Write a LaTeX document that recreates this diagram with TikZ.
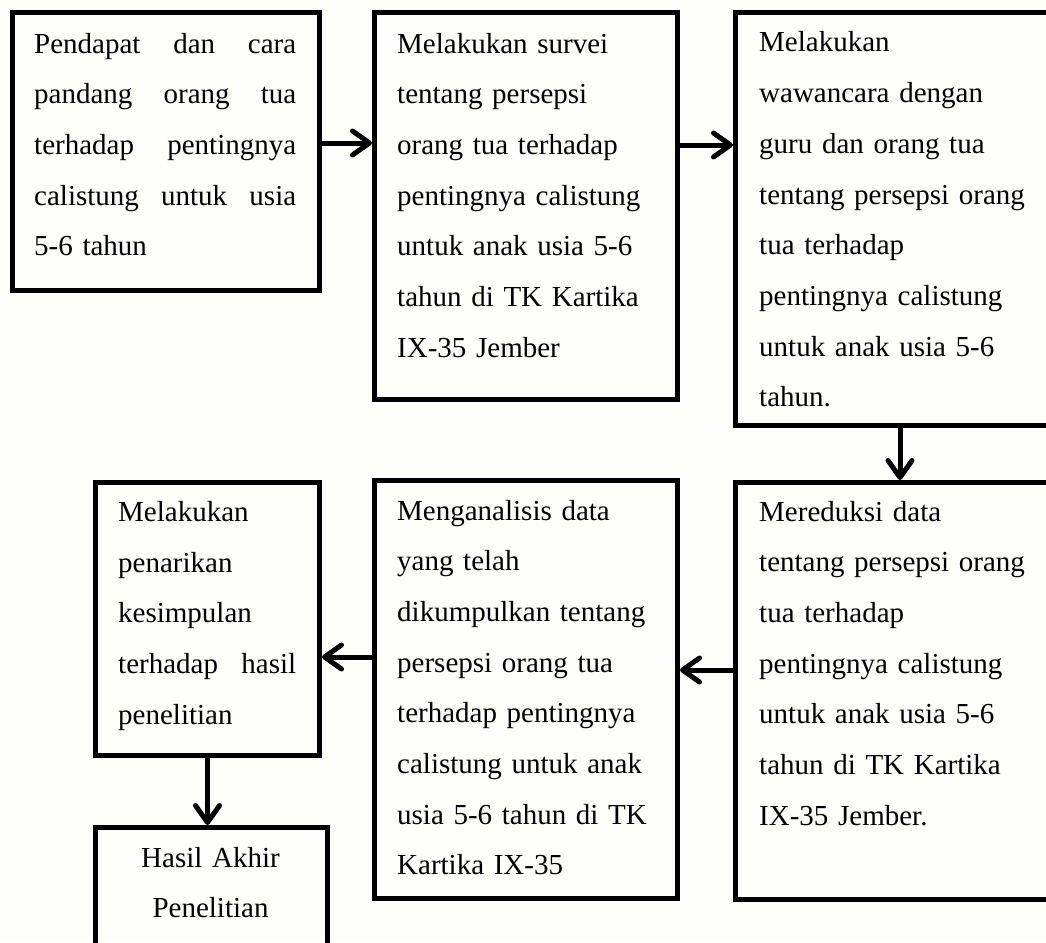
\documentclass[tikz,border=0pt]{standalone}
\usepackage{fontspec}
\setmainfont{Liberation Serif}
\usetikzlibrary{arrows.meta}
\definecolor{paper}{RGB}{253,253,249}
\tikzset{
  box/.style={draw=black, line width=5pt, rectangle, inner sep=0pt},
  txt/.style={anchor=base west, inner sep=0pt, align=left, font=\fontsize{29}{50.7}\selectfont},
  ctxt/.style={anchor=base, inner sep=0pt, align=center, font=\fontsize{29}{50.7}\selectfont},
  arr/.style={line width=5pt, -{Straight Barb[length=17pt,width=24pt,line cap=round,line join=round]}}
}
\newcommand{\jthree}[4]{\makebox[#1][l]{#2\hfill #3\hfill #4}}
\newcommand{\jtwo}[3]{\makebox[#1][l]{#2\hfill #3}}
\begin{document}
\begin{tikzpicture}[x=1pt,y=-1pt]
\useasboundingbox (0,0) rectangle (1046,942);
\clip (0,0) rectangle (1046,942);
\fill[paper] (0,0) rectangle (1046,942);

% boxes
\node[box, minimum width=307pt, minimum height=278pt] (b1) at (166,151.5) {};
\node[box, minimum width=303pt, minimum height=386.5pt] (b2) at (526,205.75) {};
\node[box, minimum width=334.5pt, minimum height=413pt] (b3) at (902.75,219) {};
\node[box, minimum width=334.5pt, minimum height=417pt] (b4) at (902.75,691) {};
\node[box, minimum width=303pt, minimum height=418pt] (b5) at (526,689.5) {};
\node[box, minimum width=224pt, minimum height=273pt] (b6) at (207.5,619) {};
\node[box, minimum width=232pt, minimum height=147.5pt] (b7) at (211.5,901.25) {};

% texts
\node[txt, text width=263pt] (t1) at (34,53) {\jthree{262pt}{Pendapat}{dan}{cara}\\\jthree{262pt}{pandang}{orang}{tua}\\\jtwo{262pt}{terhadap}{pentingnya}\\\jthree{262pt}{calistung}{untuk}{usia}\\5-6 tahun};
\node[txt, text width=270pt] (t2) at (397,53) {Melakukan survei\\tentang persepsi\\orang tua terhadap\\pentingnya calistung\\untuk anak usia 5-6\\tahun di TK Kartika\\IX-35 Jember};
\node[txt, text width=280pt] (t3) at (759,52) {Melakukan\\wawancara dengan\\guru dan orang tua\\tentang persepsi orang\\tua terhadap\\pentingnya calistung\\untuk anak usia 5-6\\tahun.};
\node[txt, text width=280pt] (t4) at (759,521) {Mereduksi data\\tentang persepsi orang\\tua terhadap\\pentingnya calistung\\untuk anak usia 5-6\\tahun di TK Kartika\\IX-35 Jember.};
\node[txt, text width=270pt] (t5) at (397,520) {Menganalisis data\\yang telah\\dikumpulkan tentang\\persepsi orang tua\\terhadap pentingnya\\calistung untuk anak\\usia 5-6 tahun di TK\\Kartika IX-35};
\node[txt, text width=179pt] (t6) at (118,521.5) {Melakukan\\penarikan\\kesimpulan\\\jtwo{178pt}{terhadap}{hasil}\\penelitian};
\node[ctxt, text width=232pt] (t7) at (210.5,867) {Hasil Akhir\\Penelitian};

% connectors
\draw[arr] (b1.east |- 0,143) -- (b2.west |- 0,143);
\draw[arr] (b2.east |- 0,145) -- (b3.west |- 0,145);
\draw[arr] (b3.south -| 900,0) -- (b4.north -| 900,0);
\draw[arr] (b4.west |- 0,670) -- (b5.east |- 0,670);
\draw[arr] (b5.west |- 0,657) -- (b6.east |- 0,657);
\draw[arr] (b6.south) -- (b6.south |- b7.north);
\end{tikzpicture}
\end{document}
